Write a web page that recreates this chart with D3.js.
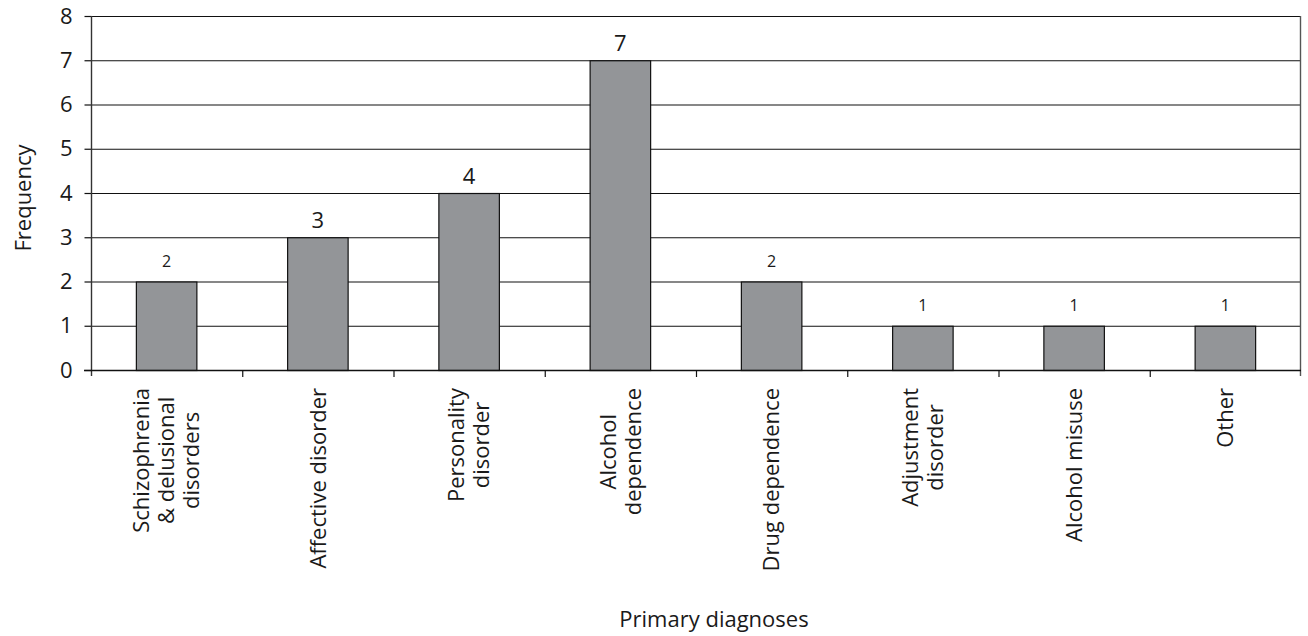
<!DOCTYPE html>
<html>
<head>
<meta charset="utf-8">
<script src="https://cdn.jsdelivr.net/npm/d3@7"></script>
<style>
  html, body { margin: 0; padding: 0; background: #fff; }
  svg { display: block; font-family: "Open Sans", sans-serif; }
</style>
</head>
<body>
<svg id="chart" width="1308" height="636"></svg>
<script>
// ---- data ----
const categories = [
  "Schizophrenia\n& delusional\ndisorders",
  "Affective disorder",
  "Personality\ndisorder",
  "Alcohol\ndependence",
  "Drug dependence",
  "Adjustment\ndisorder",
  "Alcohol misuse",
  "Other"
];
const frequencies = [2, 3, 4, 7, 2, 1, 1, 1];
const yTicks = [0, 1, 2, 3, 4, 5, 6, 7, 8];
const yTitle = "Frequency";
const xTitle = "Primary diagnoses";

// ---- layout ----
const svg = d3.select("#chart");
const m = { left: 91, top: 16, right: 7, bottom: 266 };
const W = 1308 - m.left - m.right;
const H = 636 - m.top - m.bottom;
const bigLabelIdx = new Set([1, 2, 3]);
const ink = "#1a1a1a";

const x = d3.scaleBand().domain(d3.range(categories.length)).range([0, W]).padding(0);
const y = d3.scaleLinear().domain([0, 8]).range([H, 0]);

const g = svg.append("g").attr("transform", `translate(${m.left},${m.top})`);

// gridlines
g.append("g").selectAll("line").data(yTicks.filter(d => d > 0)).join("line")
  .attr("x1", 0).attr("x2", W)
  .attr("y1", d => y(d) + 0.5).attr("y2", d => y(d) + 0.5)
  .attr("stroke", "#111").attr("stroke-width", 1.2);

// right border
g.append("line").attr("x1", W - 0.5).attr("x2", W - 0.5).attr("y1", y(8)).attr("y2", H + 6)
  .attr("stroke", "#555").attr("stroke-width", 1.4);

// bars
const barW = x.bandwidth() * 0.4;
g.append("g").selectAll("rect").data(frequencies).join("rect")
  .attr("x", (d, i) => x(i) + (x.bandwidth() - barW) / 2)
  .attr("width", barW)
  .attr("y", d => y(d) + 0.5)
  .attr("height", d => y(0) - y(d))
  .attr("fill", "#939598")
  .attr("stroke", "#111").attr("stroke-width", 1.2);

// value labels
g.append("g").selectAll("text").data(frequencies).join("text")
  .attr("x", (d, i) => x(i) + x.bandwidth() / 2)
  .attr("y", (d, i) => y(d) - (bigLabelIdx.has(i) ? 9 : 15))
  .attr("text-anchor", "middle")
  .attr("font-size", (d, i) => bigLabelIdx.has(i) ? "22px" : "16px")
  .attr("fill", ink)
  .text(d => d);

// y axis
const yAxis = d3.axisLeft(y).tickValues(yTicks).tickSize(7).tickPadding(12).tickFormat(d3.format("d"));
const ya = g.append("g").attr("transform", "translate(0.5,0)").call(yAxis);
ya.select(".domain").remove();
ya.append("line").attr("x1", 0).attr("x2", 0).attr("y1", y(8)).attr("y2", H + 6)
  .attr("stroke", "#333").attr("stroke-width", 1.4);
ya.selectAll(".tick line").attr("stroke", "#111").attr("stroke-width", 1.2);
ya.selectAll(".tick text").attr("font-size", "22px").attr("font-family", "Open Sans").attr("fill", ink);

// x axis baseline + boundary ticks
g.append("line").attr("x1", -7).attr("x2", W).attr("y1", H + 0.5).attr("y2", H + 0.5)
  .attr("stroke", "#111").attr("stroke-width", 1.6);
g.append("g").selectAll("line").data(d3.range(1, categories.length)).join("line")
  .attr("x1", i => x(i) + 0.5).attr("x2", i => x(i) + 0.5)
  .attr("y1", H).attr("y2", H + 7)
  .attr("stroke", "#111").attr("stroke-width", 1.2);

// category labels (rotated)
const lh = 25;
const labG = g.append("g").selectAll("g").data(categories).join("g")
  .attr("transform", (d, i) => `translate(${x(i) + x.bandwidth() / 2},${H + 18}) rotate(-90)`);
labG.each(function(d) {
  const lines = d.split("\n");
  const sel = d3.select(this);
  const texts = lines.map((ln, k) => sel.append("text")
    .attr("font-size", "22px").attr("fill", ink)
    .attr("text-anchor", "middle")
    .attr("y", (k - (lines.length - 1) / 2) * lh)
    .attr("dy", "0.35em")
    .text(ln));
  const maxLen = d3.max(texts, t => t.node().getComputedTextLength());
  texts.forEach(t => t.attr("x", -maxLen / 2));
});

// axis titles
svg.append("text")
  .attr("transform", `translate(31,${m.top + H / 2 + 5}) rotate(-90)`)
  .attr("text-anchor", "middle").attr("font-size", "22px").attr("fill", ink)
  .text(yTitle);
svg.append("text")
  .attr("x", 714).attr("y", 627)
  .attr("text-anchor", "middle").attr("font-size", "22px").attr("fill", ink)
  .text(xTitle);
</script>
</body>
</html>
